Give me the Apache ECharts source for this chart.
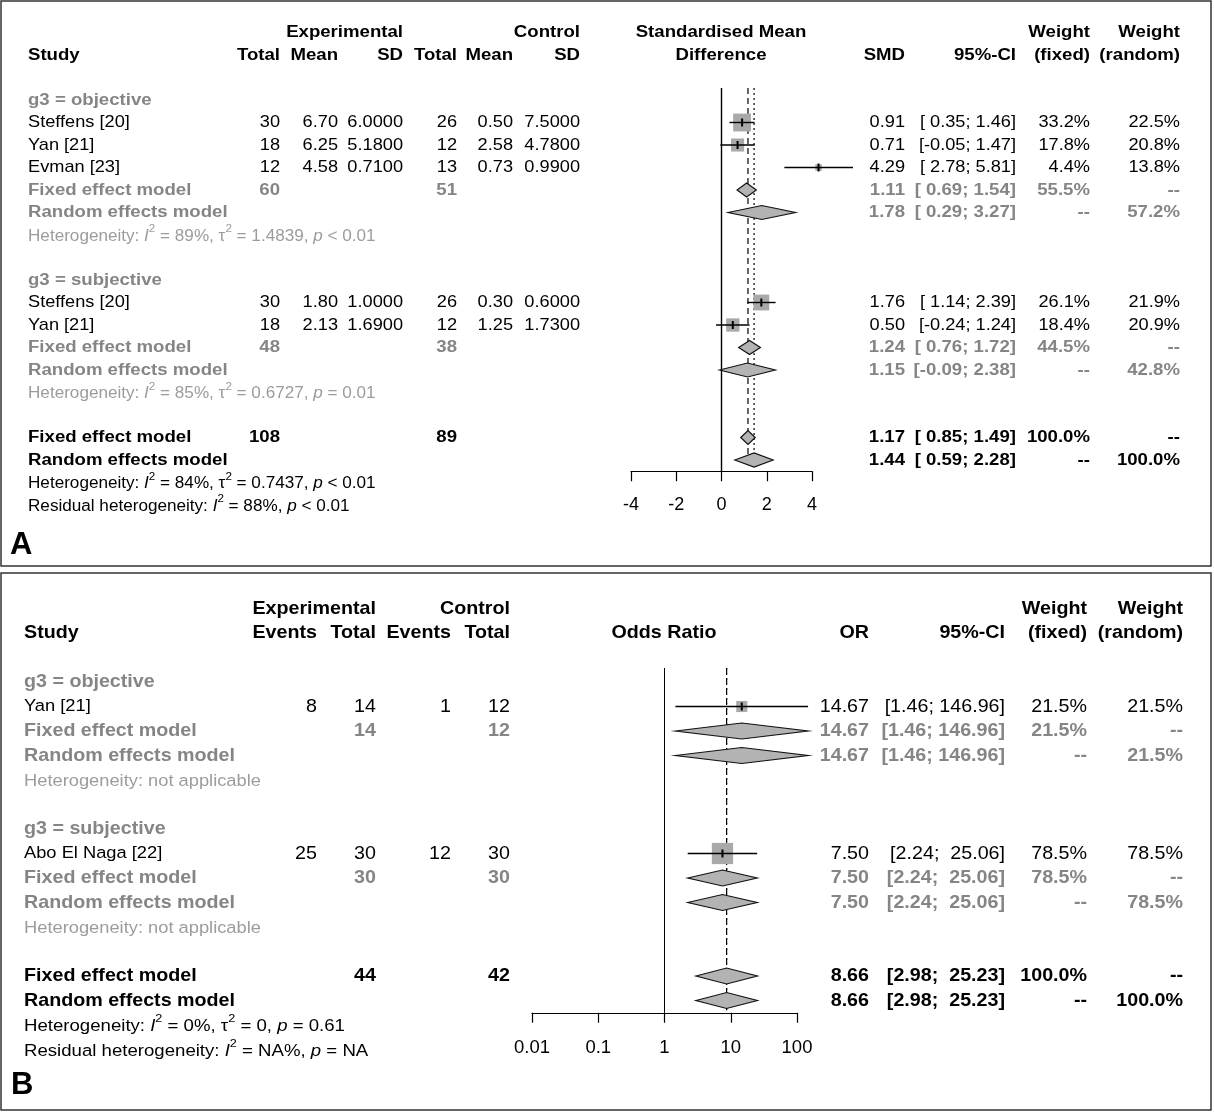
<!DOCTYPE html>
<html><head><meta charset="utf-8">
<script src="https://cdn.jsdelivr.net/npm/echarts@6/dist/echarts.min.js"></script>
<style>html,body{margin:0;padding:0;background:#fff}#c{width:1214px;height:1113px}</style>
</head><body><div id="c"></div><script>
// ===== Panel A data (SMD) =====
const aGroupNames = ["g3 = objective", "g3 = subjective"];
const aStudy = ["Steffens [20]", "Yan [21]", "Evman [23]", "Steffens [20]", "Yan [21]"];
const aGroupOf = [0, 0, 0, 1, 1];
const aExpTotal = ["30", "18", "12", "30", "18"];
const aExpMean = ["6.70", "6.25", "4.58", "1.80", "2.13"];
const aExpSD = ["6.0000", "5.1800", "0.7100", "1.0000", "1.6900"];
const aCtlTotal = ["26", "12", "13", "26", "12"];
const aCtlMean = ["0.50", "2.58", "0.73", "0.30", "1.25"];
const aCtlSD = ["7.5000", "4.7800", "0.9900", "0.6000", "1.7300"];
const aSMD = [0.91, 0.71, 4.29, 1.76, 0.50];
const aLower = [0.35, -0.05, 2.78, 1.14, -0.24];
const aUpper = [1.46, 1.47, 5.81, 2.39, 1.24];
const aWFixed = [33.2, 17.8, 4.4, 26.1, 18.4];
const aWRandom = [22.5, 20.8, 13.8, 21.9, 20.9];
// summaries: [g0 fixed, g0 random, g1 fixed, g1 random, overall fixed, overall random]
const aSumEst = [1.11, 1.78, 1.24, 1.15, 1.17, 1.44];
const aSumLower = [0.69, 0.29, 0.76, -0.09, 0.85, 0.59];
const aSumUpper = [1.54, 3.27, 1.72, 2.38, 1.49, 2.28];
const aSumExpTotal = ["60", "", "48", "", "108", ""];
const aSumCtlTotal = ["51", "", "38", "", "89", ""];
const aSumWFixed = ["55.5%", "--", "44.5%", "--", "100.0%", "--"];
const aSumWRandom = ["--", "57.2%", "--", "42.8%", "--", "100.0%"];
const aHetI2 = ["89%", "85%", "84%"];
const aHetTau2 = ["1.4839", "0.6727", "0.7437"];
const aHetP = ["< 0.01", "= 0.01", "< 0.01"];
const aResidI2 = "88%", aResidP = "< 0.01";
const aTicks = [-4, -2, 0, 2, 4];

// ===== Panel B data (OR) =====
const bGroupNames = ["g3 = objective", "g3 = subjective"];
const bStudy = ["Yan [21]", "Abo El Naga [22]"];
const bGroupOf = [0, 1];
const bExpEvents = ["8", "25"];
const bExpTotal = ["14", "30"];
const bCtlEvents = ["1", "12"];
const bCtlTotal = ["12", "30"];
const bOR = [14.67, 7.50];
const bLower = [1.46, 2.24];
const bUpper = [146.96, 25.06];
const bWFixed = [21.5, 78.5];
const bWRandom = [21.5, 78.5];
const bSumEst = [14.67, 14.67, 7.50, 7.50, 8.66, 8.66];
const bSumLower = [1.46, 1.46, 2.24, 2.24, 2.98, 2.98];
const bSumUpper = [146.96, 146.96, 25.06, 25.06, 25.23, 25.23];
const bSumExpTotal = ["14", "", "30", "", "44", ""];
const bSumCtlTotal = ["12", "", "30", "", "42", ""];
const bSumWFixed = ["21.5%", "--", "78.5%", "--", "100.0%", "--"];
const bSumWRandom = ["--", "21.5%", "--", "78.5%", "--", "100.0%"];
const bHetI2 = "0%", bHetTau2 = "0", bHetP = "= 0.61";
const bResidI2 = "NA%", bResidP = "= NA";
const bTickLabels = ["0.01", "0.1", "1", "10", "100"];

// ===== helpers =====
const FAM = '"Liberation Sans", Arial, sans-serif';
const SX = 1.07;
const BLACK = '#000', GRAY = '#858585', LGRAY = '#9c9c9c';
const mctx = document.createElement('canvas').getContext('2d');
function measure(t, size, bold, italic) {
  mctx.font = (italic ? 'italic ' : '') + (bold ? 'bold ' : '') + size + 'px ' + FAM;
  return mctx.measureText(t).width * SX;
}
function T(x, t, o) { return Object.assign({ x: x, t: t, align: 'left', bold: false, color: BLACK, size: 16 }, o); }
function fmtA(v, w) { let s = v.toFixed(2); while (s.length < w) s = ' ' + s; return s; }
function ciA(l, u) { return '[' + fmtA(l, 5) + '; ' + fmtA(u, 4) + ']'; }
function ciB(l, u) { return '[' + l.toFixed(2) + '; ' + fmtA(u, 6) + ']'; }
function hetPieces(i2, tau2, p) {
  return [{ t: 'Heterogeneity: ' }, { t: 'I', i: 1 }, { t: '2', s: 1 }, { t: ' = ' + i2 + ', ' }, { t: 'τ' }, { t: '2', s: 1 }, { t: ' = ' + tau2 + ', ' }, { t: 'p', i: 1 }, { t: ' ' + p }];
}
function residPieces(i2, p) {
  return [{ t: 'Residual heterogeneity: ' }, { t: 'I', i: 1 }, { t: '2', s: 1 }, { t: ' = ' + i2 + ', ' }, { t: 'p', i: 1 }, { t: ' ' + p }];
}

// ===== build panel rows =====
function buildRows(P) {
  const rows = [], studyRow = [], sumRow = [];
  const C = P.cols;
  rows.push({ r: -3, items: P.head1 });
  rows.push({ r: -2, items: P.head2 });
  let r = 0;
  for (let g = 0; g < P.groupNames.length; g++) {
    rows.push({ r: r, items: [T(C.name, P.groupNames[g], { bold: true, color: GRAY, size: P.fsb })] }); r++;
    for (let i = 0; i < P.groupOf.length; i++) {
      if (P.groupOf[i] !== g) continue;
      studyRow[i] = r;
      rows.push({ r: r, items: P.studyCells(i) }); r++;
    }
    for (let k = 0; k < 2; k++) { const s = g * 2 + k; sumRow[s] = r; rows.push({ r: r, items: P.sumCells(s, GRAY) }); r++; }
    rows.push({ r: r + 0.05, items: [T(C.name, '', { pieces: P.groupHet(g), color: LGRAY, size: P.hfs })] });
    r += 2;
  }
  for (let k = 0; k < 2; k++) { const s = 4 + k; sumRow[s] = r; rows.push({ r: r, items: P.sumCells(s, BLACK) }); r++; }
  rows.push({ r: r + 0.05, items: [T(C.name, '', { pieces: P.overallHet, color: BLACK, size: P.hfs2 })] }); r++;
  rows.push({ r: r + 0.05, items: [T(C.name, '', { pieces: P.resid, color: BLACK, size: P.hfs2 })] });
  return { rows, studyRow, sumRow };
}

// Panel A config
const fsA = 17, fsAb = 17.4;
const colA = { name: 28, eT: 280, eM: 338, eS: 403, cT: 457, cM: 513, cS: 580, est: 905, ci: 1016, wf: 1090, wr: 1180 };
const hA = (x, t, al) => T(x, t, { align: al || 'right', bold: true, size: fsAb });
const PA = {
  fsb: fsAb, hfs: 16, hfs2: 16, cols: colA, groupNames: aGroupNames, groupOf: aGroupOf,
  head1: [hA(colA.eS, 'Experimental'), hA(colA.cS, 'Control'), hA(721, 'Standardised Mean', 'center'), hA(colA.wf, 'Weight'), hA(colA.wr, 'Weight')],
  head2: [hA(colA.name, 'Study', 'left'), hA(colA.eT, 'Total'), hA(colA.eM, 'Mean'), hA(colA.eS, 'SD'), hA(colA.cT, 'Total'), hA(colA.cM, 'Mean'),
    hA(colA.cS, 'SD'), hA(721, 'Difference', 'center'), hA(colA.est, 'SMD'), hA(colA.ci, '95%-CI'), hA(colA.wf, '(fixed)'), hA(colA.wr, '(random)')],
  studyCells: i => [T(colA.name, aStudy[i], { size: fsA }), T(colA.eT, aExpTotal[i], { align: 'right', size: fsA }), T(colA.eM, aExpMean[i], { align: 'right', size: fsA }),
    T(colA.eS, aExpSD[i], { align: 'right', size: fsA }), T(colA.cT, aCtlTotal[i], { align: 'right', size: fsA }), T(colA.cM, aCtlMean[i], { align: 'right', size: fsA }),
    T(colA.cS, aCtlSD[i], { align: 'right', size: fsA }), T(colA.est, aSMD[i].toFixed(2), { align: 'right', size: fsA }), T(colA.ci, ciA(aLower[i], aUpper[i]), { align: 'right', size: fsA }),
    T(colA.wf, aWFixed[i].toFixed(1) + '%', { align: 'right', size: fsA }), T(colA.wr, aWRandom[i].toFixed(1) + '%', { align: 'right', size: fsA })],
  sumCells: (s, col) => [T(colA.name, s % 2 === 0 ? 'Fixed effect model' : 'Random effects model', { bold: true, color: col, size: fsAb }),
    T(colA.eT, aSumExpTotal[s], { align: 'right', bold: true, color: col, size: fsAb }), T(colA.cT, aSumCtlTotal[s], { align: 'right', bold: true, color: col, size: fsAb }),
    T(colA.est, aSumEst[s].toFixed(2), { align: 'right', bold: true, color: col, size: fsAb }), T(colA.ci, ciA(aSumLower[s], aSumUpper[s]), { align: 'right', bold: true, color: col, size: fsAb }),
    T(colA.wf, aSumWFixed[s], { align: 'right', bold: true, color: col, size: fsAb }), T(colA.wr, aSumWRandom[s], { align: 'right', bold: true, color: col, size: fsAb })],
  groupHet: g => hetPieces(aHetI2[g], aHetTau2[g], aHetP[g]),
  overallHet: hetPieces(aHetI2[2], aHetTau2[2], aHetP[2]),
  resid: residPieces(aResidI2, aResidP)
};

// Panel B config
const fsB = 18.4, fsBs = 17.1;
const colB = { name: 24, eE: 317, eT: 376, cE: 451, cT: 510, est: 869, ci: 1005, wf: 1087, wr: 1183 };
const hB = (x, t, al) => T(x, t, { align: al || 'right', bold: true, size: fsB });
const PB = {
  fsb: fsB, hfs: 17.1, hfs2: 17.4, cols: colB, groupNames: bGroupNames, groupOf: bGroupOf,
  head1: [hB(colB.eT, 'Experimental'), hB(colB.cT, 'Control'), hB(colB.wf, 'Weight'), hB(colB.wr, 'Weight')],
  head2: [hB(colB.name, 'Study', 'left'), hB(colB.eE, 'Events'), hB(colB.eT, 'Total'), hB(colB.cE, 'Events'), hB(colB.cT, 'Total'),
    hB(664, 'Odds Ratio', 'center'), hB(colB.est, 'OR'), hB(colB.ci, '95%-CI'), hB(colB.wf, '(fixed)'), hB(colB.wr, '(random)')],
  studyCells: i => [T(colB.name, bStudy[i], { size: fsBs }), T(colB.eE, bExpEvents[i], { align: 'right', size: fsB }), T(colB.eT, bExpTotal[i], { align: 'right', size: fsB }),
    T(colB.cE, bCtlEvents[i], { align: 'right', size: fsB }), T(colB.cT, bCtlTotal[i], { align: 'right', size: fsB }),
    T(colB.est, bOR[i].toFixed(2), { align: 'right', size: fsB }), T(colB.ci, ciB(bLower[i], bUpper[i]), { align: 'right', size: fsB }),
    T(colB.wf, bWFixed[i].toFixed(1) + '%', { align: 'right', size: fsB }), T(colB.wr, bWRandom[i].toFixed(1) + '%', { align: 'right', size: fsB })],
  sumCells: (s, col) => [T(colB.name, s % 2 === 0 ? 'Fixed effect model' : 'Random effects model', { bold: true, color: col, size: fsB }),
    T(colB.eT, bSumExpTotal[s], { align: 'right', bold: true, color: col, size: fsB }), T(colB.cT, bSumCtlTotal[s], { align: 'right', bold: true, color: col, size: fsB }),
    T(colB.est, bSumEst[s].toFixed(2), { align: 'right', bold: true, color: col, size: fsB }), T(colB.ci, ciB(bSumLower[s], bSumUpper[s]), { align: 'right', bold: true, color: col, size: fsB }),
    T(colB.wf, bSumWFixed[s], { align: 'right', bold: true, color: col, size: fsB }), T(colB.wr, bSumWRandom[s], { align: 'right', bold: true, color: col, size: fsB })],
  groupHet: g => [{ t: 'Heterogeneity: not applicable' }],
  overallHet: hetPieces(bHetI2, bHetTau2, bHetP),
  resid: residPieces(bResidI2, bResidP)
};

const RA = buildRows(PA), RB = buildRows(PB);

// ===== render helpers =====
function textEl(x, y, it) {
  return {
    type: 'text', x: x, y: y, scaleX: SX, z2: 10,
    style: { text: it.t, x: 0, y: 0, textAlign: it.align, textVerticalAlign: 'middle', verticalAlign: 'middle',
      fontSize: it.size, fontWeight: it.bold ? 'bold' : 'normal', fontStyle: it.italic ? 'italic' : 'normal', fontFamily: FAM, fill: it.color }
  };
}
function cellEls(it, y) {
  if (!it.pieces) return [textEl(it.x, y, it)];
  const out = []; let x = it.x;
  it.pieces.forEach(p => {
    const sz = p.s ? it.size * 0.68 : it.size;
    const yy = p.s ? y - it.size * 0.42 : y;
    out.push(textEl(x, yy, { t: p.t, align: 'left', size: sz, bold: false, italic: !!p.i, color: it.color }));
    x += measure(p.t, sz, false, !!p.i);
  });
  return out;
}
function tableSeries(R, gi) {
  return {
    type: 'custom', xAxisIndex: gi, yAxisIndex: gi, silent: true, z: 10,
    data: R.rows.map(row => [0, row.r]),
    renderItem: (params, api) => {
      const row = R.rows[params.dataIndex];
      const y = api.coord([0, row.r])[1];
      const ch = [];
      row.items.forEach(it => { if (it.t !== '' || it.pieces) cellEls(it, y).forEach(e => ch.push(e)); });
      return { type: 'group', children: ch };
    }
  };
}
function studySeries(est, lo, hi, w, rowsIdx, gi, k) {
  return {
    type: 'custom', xAxisIndex: gi, yAxisIndex: gi, silent: true, z: 5,
    data: est.map((v, i) => [v, rowsIdx[i], lo[i], hi[i], w[i]]),
    renderItem: (params, api) => {
      const c = api.coord([api.value(0), api.value(1)]);
      const pl = api.coord([api.value(2), api.value(1)]);
      const ph = api.coord([api.value(3), api.value(1)]);
      const s = k * Math.sqrt(api.value(4));
      return { type: 'group', children: [
        { type: 'rect', shape: { x: c[0] - s / 2, y: c[1] - s / 2, width: s, height: s }, style: { fill: '#a9a9a9' } },
        { type: 'line', shape: { x1: pl[0], y1: c[1], x2: ph[0], y2: c[1] }, style: { stroke: '#000', lineWidth: 1.4 } },
        { type: 'line', shape: { x1: c[0], y1: c[1] - 4, x2: c[0], y2: c[1] + 4 }, style: { stroke: '#000', lineWidth: 2 } }
      ] };
    }
  };
}
function diamondSeries(est, lo, hi, rowsIdx, gi, h) {
  return {
    type: 'custom', xAxisIndex: gi, yAxisIndex: gi, silent: true, z: 5,
    data: est.map((v, i) => [v, rowsIdx[i], lo[i], hi[i]]),
    renderItem: (params, api) => {
      const c = api.coord([api.value(0), api.value(1)]);
      const pl = api.coord([api.value(2), api.value(1)]);
      const ph = api.coord([api.value(3), api.value(1)]);
      return { type: 'polygon', shape: { points: [[pl[0], c[1]], [c[0], c[1] - h], [ph[0], c[1]], [c[0], c[1] + h]] },
        style: { fill: '#b3b3b3', stroke: '#111', lineWidth: 1.2 } };
    }
  };
}
function vlineSeries(x, r0, r1, gi, dash, width) {
  return {
    type: 'custom', xAxisIndex: gi, yAxisIndex: gi, silent: true, z: 3,
    data: [[x, r0, r1]],
    renderItem: (params, api) => {
      const a = api.coord([api.value(0), api.value(1)]);
      const b = api.coord([api.value(0), api.value(2)]);
      return { type: 'line', shape: { x1: a[0], y1: a[1], x2: b[0], y2: b[1] }, style: { stroke: '#000', lineWidth: width, lineDash: dash } };
    }
  };
}

const chart = echarts.init(document.getElementById('c'), null, { renderer: 'canvas' });
const axisCommon = {
  axisLine: { show: true, onZero: false, lineStyle: { color: '#000', width: 1.2 } },
  axisTick: { show: true, inside: false, length: 10, lineStyle: { color: '#000', width: 1.2 } },
  splitLine: { show: false },
  axisLabel: { color: '#000', fontSize: 18, fontFamily: FAM }
};
chart.setOption({
  animation: false,
  backgroundColor: '#fff',
  grid: [
    { left: 631, width: 181, top: 10, height: 461.25 },
    { left: 532, width: 265, top: 596.25, height: 416.5 }
  ],
  xAxis: [
    Object.assign({}, axisCommon, { type: 'value', gridIndex: 0, position: 'bottom', min: aTicks[0], max: aTicks[aTicks.length - 1], interval: 2,
      axisLabel: Object.assign({}, axisCommon.axisLabel, { margin: 25 }) }),
    Object.assign({}, axisCommon, { type: 'log', gridIndex: 1, position: 'bottom', logBase: 10, min: 0.01, max: 100,
      axisLabel: Object.assign({}, axisCommon.axisLabel, { fontSize: 18.5, margin: 26, formatter: v => bTickLabels[Math.round(Math.log10(v)) + 2] }) })
  ],
  yAxis: [
    { type: 'value', gridIndex: 0, inverse: true, min: -4, max: 16.5, show: false },
    { type: 'value', gridIndex: 1, inverse: true, min: -3.5, max: 13.5, show: false }
  ],
  series: [
    vlineSeries(0, -0.53, 16.5, 0, null, 1.4),
    vlineSeries(aSumEst[4], -0.53, 16.3, 0, [6, 4], 1.2),
    vlineSeries(aSumEst[5], -0.53, 16.3, 0, [2, 3], 1.2),
    studySeries(aSMD, aLower, aUpper, aWFixed, RA.studyRow, 0, 3.1),
    diamondSeries(aSumEst, aSumLower, aSumUpper, RA.sumRow, 0, 7),
    tableSeries(RA, 0),
    vlineSeries(1, -0.57, 13.5, 1, null, 1),
    vlineSeries(bSumEst[4], -0.57, 13.4, 1, [6, 4], 1.2),
    vlineSeries(bSumEst[5], -0.57, 13.4, 1, [2, 3], 1.2),
    studySeries(bOR, bLower, bUpper, bWFixed, RB.studyRow, 1, 2.4),
    diamondSeries(bSumEst, bSumLower, bSumUpper, RB.sumRow, 1, 8),
    tableSeries(RB, 1)
  ],
  graphic: [
    { type: 'rect', shape: { x: 1, y: 1, width: 1210, height: 565 }, style: { fill: null, stroke: '#333', lineWidth: 1.5 }, silent: true },
    { type: 'rect', shape: { x: 1, y: 573, width: 1210, height: 537 }, style: { fill: null, stroke: '#333', lineWidth: 1.5 }, silent: true },
    { type: 'text', x: 10, y: 545, style: { text: 'A', fontSize: 31, fontWeight: 'bold', fontFamily: FAM, fill: '#000', textVerticalAlign: 'middle', verticalAlign: 'middle' } },
    { type: 'text', x: 11, y: 1085, style: { text: 'B', fontSize: 31, fontWeight: 'bold', fontFamily: FAM, fill: '#000', textVerticalAlign: 'middle', verticalAlign: 'middle' } }
  ]
});
</script></body></html>
